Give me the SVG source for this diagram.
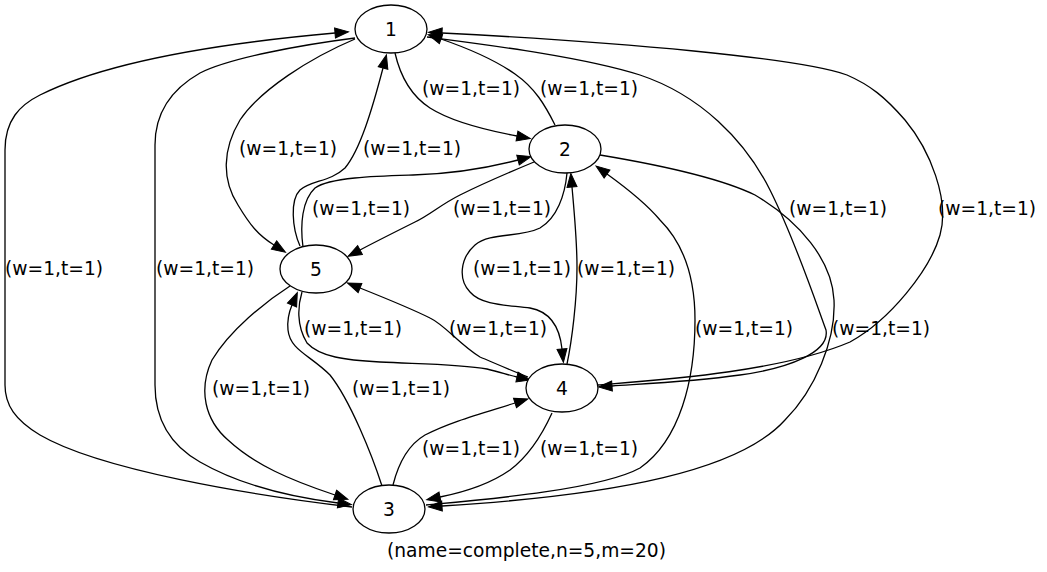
<svg xmlns="http://www.w3.org/2000/svg" width="1047" height="572" viewBox="0 0 1047 572">
  <style>
    .node ellipse { fill: #ffffff; stroke: #000000; stroke-width: 1.3; }
    .node text { font-family: "DejaVu Sans", sans-serif; font-size: 18.67px; text-anchor: middle; fill: #000000; }
    .edges path { fill: none; stroke: #000000; stroke-width: 1.3; marker-end: url(#arrow); }
    .lbl { font-family: "DejaVu Sans", sans-serif; font-size: 18.67px; fill: #000000; }
  </style>
  <defs>
    <marker id="arrow" viewBox="0 0 14 10" refX="0" refY="5" markerWidth="14" markerHeight="10" markerUnits="userSpaceOnUse" orient="auto" overflow="visible">
      <path d="M0,0 L13.5,5 L0,10 z" fill="#000000" stroke="#000000" stroke-width="1"/>
    </marker>
  </defs>
  <rect width="1047" height="572" fill="#ffffff"/>

  <g id="connectors" class="edges">
    <!-- 1 -> 2 -->
    <path d="M395,53 C400,75 410,95 430,108 C452,122 485,130 517,136"/>
    <!-- 2 -> 1 -->
    <path d="M555,125 C545,105 535,88 515,74 C495,60 470,49 441,39"/>
    <!-- 1 -> 4 (inner right arc) -->
    <path d="M427,37 C480,44 580,56 640,75 C700,95 745,140 770,190 C795,240 815,300 826,330 C830,352 790,368 740,375 C690,382 640,384 612,386"/>
    <!-- 4 -> 1 (outer right arc) -->
    <path d="M598,385 C660,380 780,372 850,342 C890,320 930,270 940,235 C950,200 930,150 905,120 C885,97 870,85 847,75 C800,58 620,42 442,33"/>
    <!-- 2 -> 3 -->
    <path d="M600,155 C660,165 720,178 755,195 C800,222 832,260 834,300 C836,340 815,390 785,420 C740,470 620,495 442,506"/>
    <!-- 3 -> 2 -->
    <path d="M426,505 C480,500 600,490 640,468 C680,440 695,380 695,320 C695,270 680,240 660,220 C645,202 625,187 607,174"/>
    <!-- 4 -> 3 -->
    <path d="M552,413 C542,435 530,455 510,470 C490,484 465,492 440,497"/>
    <!-- 3 -> 4 -->
    <path d="M393,485 C398,465 408,445 425,435 C450,422 480,414 515,403"/>
    <!-- 3 -> 5 -->
    <path d="M382,486 C372,455 350,400 330,375 C310,355 290,350 288,330 C287,320 289,312 292,305"/>
    <!-- 5 -> 4 -->
    <path d="M302,292 C298,305 296,325 307,343 C320,357 345,360 380,362 C420,364 460,364 487,369 C500,372 508,375 517,377"/>
    <!-- 4 -> 5 -->
    <path d="M528,377 C510,370 492,362 480,357 C460,345 445,325 430,318 C410,308 385,298 360,288"/>
    <!-- 2 -> 4 -->
    <path d="M567,173 C565,195 557,218 540,228 C520,238 490,232 475,245 C460,258 458,280 470,292 C482,306 510,305 530,308 C552,312 560,330 562,349"/>
    <!-- 4 -> 2 -->
    <path d="M567,364 C572,340 577,300 577,267 C577,240 574,210 572,187"/>
    <!-- 5 -> 2 -->
    <path d="M303,247 C300,225 302,200 315,188 C330,177 380,176 413,175 C450,174 480,170 518,160"/>
    <!-- 2 -> 5 -->
    <path d="M534,162 C510,172 480,185 460,195 C440,205 430,215 415,222 C395,232 375,242 360,250"/>
    <!-- 5 -> 1 -->
    <path d="M300,246 C292,228 290,200 300,190 C312,180 330,182 345,168 C360,150 372,110 383,68"/>
    <!-- 1 -> 5 -->
    <path d="M355,39 C310,58 260,90 240,120 C222,150 222,180 238,205 C250,225 258,235 274,245"/>
    <!-- 5 -> 3 -->
    <path d="M290,286 C265,302 230,330 212,360 C198,390 205,420 228,440 C255,465 290,480 335,495"/>
    <!-- 3 -> 1 (far left arc) -->
    <path d="M352,507 C250,495 100,470 40,435 C15,420 5,405 5,385 L5,150 C5,120 20,105 40,95 C100,65 200,45 335,33"/>
    <!-- 1 -> 3 (left arc) -->
    <path d="M355,38 C300,45 230,58 200,73 C170,90 155,115 155,145 L155,385 C155,420 170,445 200,462 C240,485 290,497 338,503"/>
  </g>

  <g id="edge-labels" class="lbl">
    <text x="422" y="95">(w=1,t=1)</text>
    <text x="540" y="95">(w=1,t=1)</text>
    <text x="239" y="155">(w=1,t=1)</text>
    <text x="363" y="155">(w=1,t=1)</text>
    <text x="312" y="215">(w=1,t=1)</text>
    <text x="453" y="215">(w=1,t=1)</text>
    <text x="789" y="215">(w=1,t=1)</text>
    <text x="938" y="215">(w=1,t=1)</text>
    <text x="5" y="275">(w=1,t=1)</text>
    <text x="156" y="275">(w=1,t=1)</text>
    <text x="473" y="275">(w=1,t=1)</text>
    <text x="577" y="275">(w=1,t=1)</text>
    <text x="304" y="335">(w=1,t=1)</text>
    <text x="449" y="335">(w=1,t=1)</text>
    <text x="695" y="335">(w=1,t=1)</text>
    <text x="832" y="335">(w=1,t=1)</text>
    <text x="212" y="395">(w=1,t=1)</text>
    <text x="352" y="395">(w=1,t=1)</text>
    <text x="422" y="455">(w=1,t=1)</text>
    <text x="540" y="455">(w=1,t=1)</text>
  </g>

  <g id="node1" class="node">
    <ellipse cx="391" cy="29" rx="36" ry="24"/>
    <text x="391" y="36">1</text>
  </g>
  <g id="node2" class="node">
    <ellipse cx="565" cy="149" rx="36" ry="24"/>
    <text x="565" y="156">2</text>
  </g>
  <g id="node5" class="node">
    <ellipse cx="316" cy="269" rx="36" ry="24"/>
    <text x="316" y="276">5</text>
  </g>
  <g id="node4" class="node">
    <ellipse cx="562" cy="388" rx="36" ry="24"/>
    <text x="562" y="395">4</text>
  </g>
  <g id="node3" class="node">
    <ellipse cx="389" cy="509" rx="36" ry="24"/>
    <text x="389" y="516">3</text>
  </g>

  <text id="graph-label" class="lbl" x="387" y="557">(name=complete,n=5,m=20)</text>
</svg>
